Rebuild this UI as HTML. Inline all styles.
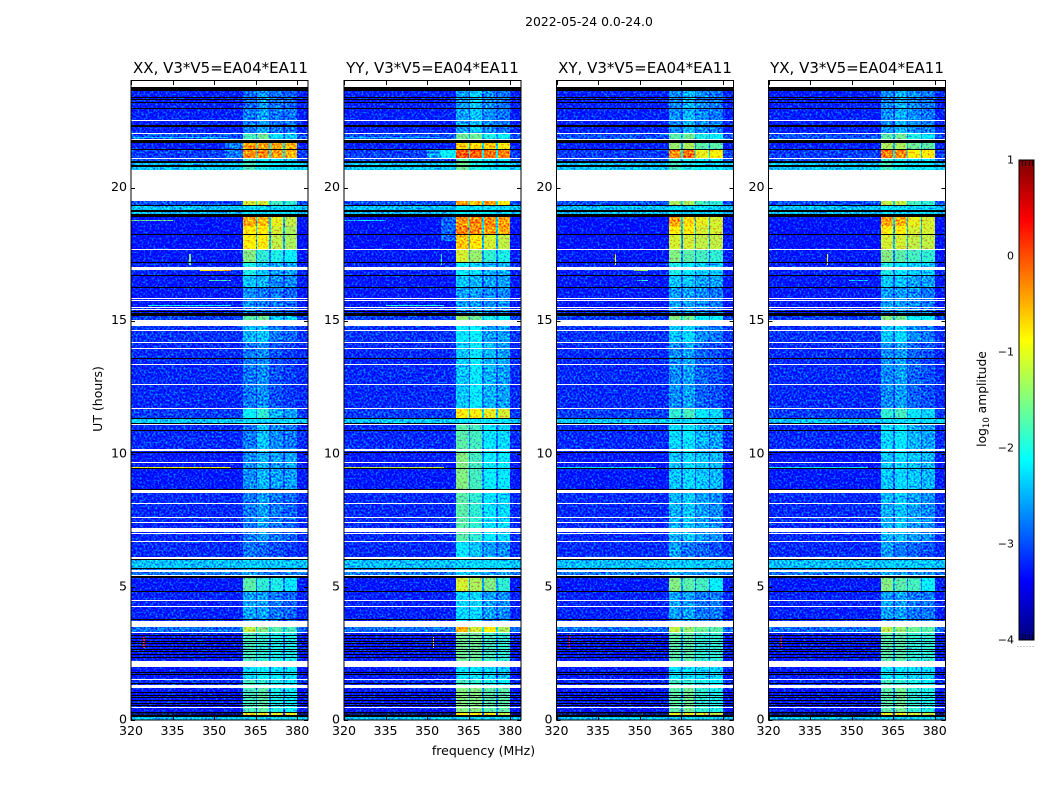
<!DOCTYPE html>
<html lang="en">
<head>
<meta charset="utf-8">
<title>2022-05-24 waterfall</title>
<style>
html,body{margin:0;padding:0;background:#fff;}
svg{display:block;}
text{font-family:"DejaVu Sans","Liberation Sans",sans-serif;fill:#000;}
.cell{shape-rendering:crispEdges;}
</style>
</head>
<body>
<svg id="figure" width="1050" height="800" viewBox="0 0 1050 800" xmlns="http://www.w3.org/2000/svg">
  <defs>
    <filter id="speckle" filterUnits="objectBoundingBox" x="0" y="0" width="1" height="1" color-interpolation-filters="sRGB">
      <feTurbulence type="fractalNoise" baseFrequency="0.5" numOctaves="2" seed="7" result="grain"/>
      <feColorMatrix in="grain" type="matrix" values="0 0 0 0 0.5  2.2 0 0 0 -0.6  0 0 0 0 0.5  0 0 0 0 1" result="green"/>
      <feComposite in="SourceGraphic" in2="green" operator="arithmetic" k1="0" k2="1" k3="0.85" k4="-0.425" result="textured"/>
      <feComposite in="textured" in2="SourceGraphic" operator="in"/>
    </filter>
  </defs>
  <text x="589" y="26" font-size="12.4" text-anchor="middle">2022-05-24 0.0-24.0</text>
  <text x="0" y="0" font-size="12.5" text-anchor="middle" transform="translate(102 399) rotate(-90)">UT (hours)</text>
  <text x="483.5" y="755" font-size="12.5" text-anchor="middle">frequency (MHz)</text>
  <text x="0" y="0" font-size="12.3" text-anchor="middle" transform="translate(986 399) rotate(-90)">log<tspan font-size="8.5" dy="3">10</tspan><tspan dy="-3"> amplitude</tspan></text>
  <g id="panels"></g>
  <g id="colorbar"></g>
</svg>
<script>
// ---- chart data ----
const panelTitles = ["XX, V3*V5=EA04*EA11", "YY, V3*V5=EA04*EA11", "XY, V3*V5=EA04*EA11", "YX, V3*V5=EA04*EA11"];
const freqTicks = [320, 335, 350, 365, 380];
const timeTicks = [0, 5, 10, 15, 20];
const colorTicks = [1, 0, -1, -2, -3, -4];

// Spectral windows, MHz
const spwEdges = [[360.5, 365], [365.5, 370], [370.5, 375], [375.5, 380]];

// Time bands, UT hours (descending edges)
const bandEdges = [23.77, 23.0, 22.05, 21.78, 21.41, 21.11, 20.92, 20.66, 19.49, 19.32, 18.89, 18.55, 18.23, 17.69, 17.2, 16.7, 16.23, 15.29, 15.0, 14.2, 11.72, 11.33, 11.15, 10.05, 8.66, 6.72, 6.02, 5.7, 5.37, 4.83, 3.72, 3.29, 2.23, 1.54, 1.2, 0.26, 0.19, 0];

// Off-band background level for each time band, log10 amplitude
const backgroundLevels = [-3.25, -3.25, -3.0, -3.25, -3.1, -3.0, -2.4, -3.0, -3.0, -2.45, -3.35, -3.35, -3.35, -3.3, -3.25, -3.3, -3.3, -3.1, -3.15, -3.2, -3.1, -2.4, -3.2, -3.3, -3.2, -3.2, -2.45, -2.8, -3.3, -3.25, -2.85, -3.3, -3.3, -3.2, -3.3, -4.2, -2.4];

// Level in the four spectral windows, one row per time band
const levelsXX = [[-2.9,-2.6,-2.8,-2.9],[-2.8,-2.6,-2.8,-2.8],[-1.8,-1.6,-2.3,-2.4],[-0.4,-0.4,-0.45,-0.5],[-0.3,-0.3,-0.4,-0.5],[-1.9,-2.1,-2.2,-2.3],[-1.8,-2.0,-2.2,-2.2],[-2.0,-2.0,-2.0,-2.0],[-1.1,-1.1,-1.8,-1.9],[-2.2,-2.3,-2.3,-2.3],[-0.45,-0.55,-1.0,-1.2],[-0.85,-0.85,-1.1,-1.3],[-0.9,-0.9,-1.2,-1.3],[-1.5,-1.9,-2.0,-2.1],[-2.0,-2.4,-2.6,-2.6],[-2.4,-2.5,-2.7,-2.7],[-2.7,-2.8,-2.8,-2.9],[-1.7,-1.6,-2.3,-2.3],[-2.5,-2.4,-2.8,-2.9],[-2.8,-2.7,-3.0,-3.1],[-2.1,-1.9,-2.5,-2.6],[-2.3,-2.3,-2.3,-2.3],[-2.8,-2.4,-2.7,-2.8],[-2.7,-2.5,-2.6,-2.6],[-2.8,-2.6,-2.8,-2.9],[-2.8,-2.9,-3.0,-3.1],[-2.4,-2.4,-2.4,-2.4],[-2.6,-2.7,-2.8,-2.8],[-1.7,-1.9,-2.0,-2.2],[-2.6,-2.6,-2.8,-2.9],[-1.2,-1.5,-1.7,-1.8],[-1.8,-1.9,-2.0,-2.0],[-2.3,-2.1,-2.2,-2.2],[-1.8,-1.9,-2.0,-2.2],[-1.8,-1.7,-2.0,-2.1],[-1.0,-1.0,-1.0,-1.0],[-2.3,-2.3,-2.3,-2.3]];
const levelsYY = [[-2.6,-2.4,-2.7,-2.8],[-2.6,-2.4,-2.7,-2.8],[-1.6,-1.6,-2.0,-2.1],[-0.7,-0.7,-0.6,-0.9],[0.0,-0.05,-0.2,-0.25],[-1.7,-2.0,-2.1,-2.2],[-1.6,-2.0,-2.2,-2.2],[-1.8,-1.8,-1.9,-2.0],[-0.4,-0.6,-0.4,-0.9],[-2.1,-2.2,-2.2,-2.3],[-0.35,-0.3,-0.3,-0.4],[-0.25,-0.3,-0.4,-0.45],[-0.6,-0.8,-1.1,-1.2],[-1.1,-1.4,-1.9,-2.0],[-2.1,-2.3,-2.5,-2.5],[-2.4,-2.5,-2.6,-2.6],[-2.6,-2.6,-2.7,-2.7],[-1.4,-1.6,-2.0,-2.1],[-2.2,-2.1,-2.6,-2.6],[-2.4,-2.2,-2.5,-2.6],[-0.9,-0.9,-1.0,-1.1],[-2.2,-2.2,-2.2,-2.2],[-1.7,-1.8,-2.2,-2.3],[-1.5,-1.8,-2.1,-2.2],[-1.7,-1.9,-2.2,-2.3],[-2.2,-2.4,-2.6,-2.7],[-2.3,-2.3,-2.3,-2.3],[-2.4,-2.5,-2.6,-2.6],[-1.1,-1.3,-1.5,-1.9],[-2.3,-2.3,-2.6,-2.7],[-0.5,-1.1,-0.9,-1.3],[-1.6,-1.6,-1.8,-1.9],[-2.2,-2.2,-2.3,-2.4],[-1.8,-1.9,-2.0,-2.2],[-1.5,-1.5,-1.7,-1.7],[-0.8,-0.9,-1.0,-1.2],[-2.3,-2.3,-2.3,-2.3]];
const levelsXY = [[-2.7,-2.5,-2.7,-2.8],[-2.7,-2.5,-2.7,-2.8],[-1.7,-1.6,-2.0,-2.1],[-1.4,-1.3,-1.7,-1.7],[-0.3,-0.2,-1.0,-0.9],[-1.9,-2.0,-2.2,-2.2],[-1.8,-2.0,-2.2,-2.2],[-2.0,-2.0,-2.0,-2.0],[-1.3,-1.3,-1.8,-1.9],[-2.2,-2.3,-2.3,-2.3],[-0.4,-0.7,-1.0,-1.1],[-0.9,-0.9,-1.1,-1.1],[-1.1,-1.1,-1.2,-1.2],[-1.5,-1.7,-1.8,-1.9],[-2.0,-2.2,-2.4,-2.4],[-2.4,-2.4,-2.6,-2.6],[-2.6,-2.6,-2.7,-2.8],[-1.5,-1.6,-2.1,-2.1],[-2.4,-2.3,-2.7,-2.8],[-2.7,-2.6,-2.9,-3.0],[-1.9,-1.8,-2.2,-2.3],[-2.3,-2.3,-2.3,-2.3],[-2.3,-2.2,-2.5,-2.6],[-2.4,-2.3,-2.4,-2.5],[-2.5,-2.4,-2.6,-2.7],[-2.6,-2.8,-2.9,-3.0],[-2.4,-2.4,-2.4,-2.4],[-2.5,-2.6,-2.7,-2.7],[-1.5,-1.7,-1.8,-2.1],[-2.6,-2.6,-2.8,-2.8],[-1.2,-1.4,-1.6,-1.7],[-1.7,-1.7,-1.9,-1.9],[-2.2,-2.2,-2.3,-2.3],[-1.8,-1.9,-2.0,-2.1],[-1.7,-1.6,-1.9,-2.0],[-1.0,-1.0,-1.1,-1.2],[-2.3,-2.3,-2.3,-2.3]];
const levelsYX = [[-2.7,-2.5,-2.7,-2.8],[-2.7,-2.5,-2.7,-2.8],[-1.7,-1.6,-2.0,-2.2],[-1.3,-1.3,-1.6,-1.7],[-0.2,-0.3,-0.9,-0.8],[-1.9,-2.0,-2.2,-2.2],[-1.8,-2.0,-2.2,-2.2],[-2.0,-2.0,-2.0,-2.0],[-1.2,-1.2,-1.8,-1.9],[-2.2,-2.3,-2.3,-2.3],[-0.4,-0.5,-1.0,-1.1],[-0.9,-0.9,-1.1,-1.1],[-1.1,-1.1,-1.2,-1.2],[-1.5,-1.7,-1.8,-1.9],[-2.0,-2.2,-2.4,-2.4],[-2.4,-2.4,-2.6,-2.6],[-2.6,-2.6,-2.7,-2.8],[-1.5,-1.6,-2.1,-2.1],[-2.4,-2.3,-2.7,-2.8],[-2.7,-2.6,-2.9,-3.0],[-1.9,-1.8,-2.2,-2.3],[-2.3,-2.3,-2.3,-2.3],[-2.3,-2.2,-2.5,-2.6],[-2.4,-2.3,-2.4,-2.5],[-2.5,-2.4,-2.6,-2.7],[-2.6,-2.8,-2.9,-3.0],[-2.4,-2.4,-2.4,-2.4],[-2.5,-2.6,-2.7,-2.7],[-1.5,-1.7,-1.8,-2.1],[-2.6,-2.6,-2.8,-2.8],[-1.2,-1.4,-1.6,-1.7],[-1.7,-1.7,-1.9,-1.9],[-2.2,-2.2,-2.3,-2.3],[-1.8,-1.9,-2.0,-2.1],[-1.7,-1.6,-1.9,-2.0],[-1.0,-1.0,-1.1,-1.2],[-2.3,-2.3,-2.3,-2.3]];

// Narrow interference features: [t top, t bottom, f low, f high, level]
const streaksXX = [[21.67,21.11,354,360.5,-2.8],[21.89,21.86,320,355,-2.4],[18.79,18.75,320,335,-1.6],[16.92,16.88,345,356,-0.6],[16.54,16.5,348,356,-1.8],[15.6,15.56,326,356,-2.2],[9.5,9.47,320,356,-1.0],[17.5,17.1,341,341.5,-1.5],[3.1,2.7,324.5,325,0.2]];
const streaksYY = [[21.41,21.11,350,355,-2.6],[21.41,21.11,355,360.5,-2.1],[21.89,21.86,320,355,-2.5],[18.79,18.75,320,335,-2.3],[18.89,18.0,355,360.5,-2.9],[15.6,15.56,335,356,-2.0],[9.5,9.47,320,356,-1.2],[17.5,17.1,355,355.5,-1.9],[3.1,2.7,352,352.5,-1.0]];
const streaksXY = [[16.92,16.88,348,353,-1.4],[16.54,16.5,349,353,-1.9],[9.5,9.47,320,356,-2.2],[17.5,17.1,341,341.5,-0.9],[3.2,2.7,324.5,325,0.3]];
const streaksYX = [[16.54,16.5,349,356,-2.2],[9.5,9.47,320,356,-2.2],[17.5,17.1,341,341.5,-0.9],[3.2,2.7,324.5,325,0.3]];

// Rows with no data (white), UT hours
const missingRows = [[24,23.77],[22.535,22.5],[22.05,22.01],[21.82,21.78],[21.11,21.07],[20.66,19.49],[17.69,17.65],[17.03,16.99],[16.96,16.92],[15.85,15.81],[15.77,15.74],[15.51,15.47],[15.44,15.4],[15.04,14.8],[14.65,14.61],[14.2,14.16],[13.97,13.93],[13.37,13.33],[12.62,12.58],[11.72,11.68],[11.14,11.08],[10.16,10.12],[9.69,9.65],[8.62,8.58],[8.56,8.53],[8.15,8.11],[7.64,7.61],[7.44,7.4],[7.23,7.06],[7.04,7.0],[6.72,6.69],[6.12,6.05],[5.63,5.56],[5.45,5.41],[4.51,4.47],[4.28,4.24],[3.72,3.49],[3.32,3.29],[2.23,1.99],[1.54,1.5],[1.31,1.2],[0.49,0.45]];

// Fully flagged rows (black), UT hours
const flaggedRows = [[23.77,23.62],[23.41,23.38],[23.31,23.28],[23.2,23.17],[22.97,22.93],[22.33,22.29],[21.78,21.67],[21.43,21.39],[20.99,20.92],[20.86,20.77],[19.33,19.3],[19.15,19.08],[19.0,18.89],[18.25,18.21],[17.22,17.18],[16.72,16.68],[16.25,16.21],[15.38,15.35],[15.29,15.17],[13.6,13.56],[11.35,11.31],[11.16,11.14],[10.9,10.86],[10.07,10.03],[9.47,9.43],[8.68,8.64],[6.04,6.0],[5.72,5.68],[5.39,5.35],[4.85,4.81],[3.78,3.74],[3.18,3.15],[3.08,3.05],[2.98,2.95],[2.88,2.85],[2.78,2.75],[2.68,2.65],[2.58,2.55],[2.48,2.45],[2.38,2.35],[1.81,1.78],[1.74,1.71],[1.4,1.37],[1.05,1.02],[0.95,0.92],[0.85,0.82],[0.75,0.72],[0.65,0.62],[0.55,0.52],[0.31,0.26],[0.17,0.1]];

// ---- layout and scales ----
const panelLefts = [131, 344, 556.5, 768.5];
const panelWidth = 177;
const plotTop = 81;
const plotBottom = 720;
const freqMin = 320;
const freqMax = 383.9;
const timeMin = 0;
const timeMax = 24;
const colorMin = -4;
const colorMax = 1;
const cbarLeft = 1019;
const cbarRight = 1034;
const cbarTop = 160;
const cbarBottom = 640;
const panelLevels = [levelsXX, levelsYY, levelsXY, levelsYX];
const panelStreaks = [streaksXX, streaksYY, streaksXY, streaksYX];
const panelNames = ['xx', 'yy', 'xy', 'yx'];
const svgNS = 'http://www.w3.org/2000/svg';

function xScale(panel, f) {
  return panelLefts[panel] + (f - freqMin) / (freqMax - freqMin) * panelWidth;
}
function yScale(t) {
  return plotBottom - (t - timeMin) / (timeMax - timeMin) * (plotBottom - plotTop);
}
function cbarScale(v) {
  return cbarBottom - (v - colorMin) / (colorMax - colorMin) * (cbarBottom - cbarTop);
}
function clamp01(x) {
  return Math.max(0, Math.min(1, x));
}
function colorScale(v) {
  const t = clamp01((v - colorMin) / (colorMax - colorMin));
  const r = clamp01(Math.min(4 * t - 1.5, -4 * t + 4.5));
  const g = clamp01(Math.min(4 * t - 0.5, -4 * t + 3.5));
  const b = clamp01(Math.min(4 * t + 0.5, -4 * t + 2.5));
  return 'rgb(' + Math.round(r * 255) + ',' + Math.round(g * 255) + ',' + Math.round(b * 255) + ')';
}
function shape(parent, tag, attrs) {
  const el = document.createElementNS(svgNS, tag);
  Object.keys(attrs).forEach(function (k) { el.setAttribute(k, attrs[k]); });
  parent.appendChild(el);
  return el;
}
function cell(parent, panel, f0, f1, t0, t1, fill) {
  const x0 = Math.round(xScale(panel, f0));
  const x1 = Math.round(xScale(panel, f1));
  const y0 = Math.round(yScale(t0));
  const y1 = Math.round(yScale(t1));
  return shape(parent, 'rect', {
    x: x0, y: y0,
    width: Math.max(1, x1 - x0),
    height: Math.max(1, y1 - y0),
    fill: fill, 'class': 'cell'
  });
}

const panelsRoot = document.getElementById('panels');
panelTitles.forEach(function (title, p) {
  const key = panelNames[p];
  const group = shape(panelsRoot, 'g', {});
  
  

  const heat = shape(group, 'g', { filter: 'url(#speckle)' });
  
  

  backgroundLevels.forEach(function (bg, b) {
    const t0 = bandEdges[b];
    const t1 = bandEdges[b + 1];
    const row = panelLevels[p][b];
    const base = cell(heat, p, freqMin, spwEdges[0][0], t0, t1, colorScale(bg));
    
    
    spwEdges.forEach(function (edge, s) {
      const c = cell(heat, p, edge[0], edge[1], t0, t1, colorScale(row[s]));
      
      
      if (s < spwEdges.length - 1) {
        const between = bg + 0.35 * (row[s] - bg);
        const g = cell(heat, p, edge[1], spwEdges[s + 1][0], t0, t1, colorScale(between));
        
        
      }
    });
    const high = cell(heat, p, spwEdges[3][1], freqMax, t0, t1, colorScale(bg));
    
    
  });

  panelStreaks[p].forEach(function (st) {
    const c = cell(heat, p, st[2], st[3], st[0], st[1], colorScale(st[4]));
    
    
  });

  missingRows.forEach(function (r) {
    const c = cell(group, p, freqMin, freqMax, r[0], r[1], '#ffffff');
    
    
  });
  flaggedRows.forEach(function (r) {
    const c = cell(group, p, freqMin, freqMax, r[0], r[1], '#000000');
    
    
  });

  const left = panelLefts[p];
  const right = left + panelWidth;
  const frame = shape(group, 'rect', { x: left, y: plotTop - 0.5, width: panelWidth, height: plotBottom - plotTop + 0.5, fill: 'none', stroke: '#000', 'stroke-width': 1 });
  
  

  const heading = shape(group, 'text', { x: left + panelWidth / 2 + (p === 0 ? 1 : 0), y: 73, 'font-size': 15, 'text-anchor': 'middle' });
  heading.textContent = title;
  
  

  freqTicks.forEach(function (f) {
    const x = Math.round(xScale(p, f)) + 0.5;
    const tb = shape(group, 'line', { x1: x, x2: x, y1: plotBottom, y2: plotBottom - 4, stroke: '#000', 'stroke-width': 1 });
    
    
    const tt = shape(group, 'line', { x1: x, x2: x, y1: plotTop, y2: plotTop + 4, stroke: '#000', 'stroke-width': 1 });
    
    
    const lab = shape(group, 'text', { x: xScale(p, f), y: 735, 'font-size': 12.6, 'text-anchor': 'middle' });
    lab.textContent = String(f);
    
    
  });
  timeTicks.forEach(function (t) {
    const y = Math.round(yScale(t)) + 0.5;
    const tl = shape(group, 'line', { x1: left, x2: left + 4, y1: y, y2: y, stroke: '#000', 'stroke-width': 1 });
    
    
    const tr = shape(group, 'line', { x1: right, x2: right - 4, y1: y, y2: y, stroke: '#000', 'stroke-width': 1 });
    
    
    const lab = shape(group, 'text', { x: left - 4, y: yScale(t) + 3.5, 'font-size': 12.6, 'text-anchor': 'end' });
    lab.textContent = String(t);
    
    
  });
});

// ---- colorbar ----
const cbarRoot = document.getElementById('colorbar');
for (let y = cbarTop; y < cbarBottom; y += 2) {
  const v = colorMax - (y - cbarTop + 1) / (cbarBottom - cbarTop) * (colorMax - colorMin);
  const band = shape(cbarRoot, 'rect', { x: cbarLeft, y: y, width: cbarRight - cbarLeft, height: 2, fill: colorScale(v), 'class': 'cell' });
  
  
}
const cbarFrame = shape(cbarRoot, 'rect', { x: cbarLeft, y: cbarTop, width: cbarRight - cbarLeft, height: cbarBottom - cbarTop, fill: 'none', stroke: '#000', 'stroke-width': 1 });


[1022, 1025, 1029, 1032].forEach(function (x) {
  const a = shape(cbarRoot, 'line', { x1: x + 0.5, x2: x + 0.5, y1: cbarTop, y2: cbarTop + 6, stroke: '#000', 'stroke-opacity': 0.7, 'stroke-width': 1 });
  
  
  const b = shape(cbarRoot, 'line', { x1: x + 0.5, x2: x + 0.5, y1: cbarBottom, y2: cbarBottom - 6, stroke: '#000', 'stroke-opacity': 0.7, 'stroke-width': 1 });
  
  
});
[1017.5, 1020.5, 1023.5, 1026.5, 1029.5, 1032.5].forEach(function (x) {
  const d = shape(cbarRoot, 'rect', { x: x, y: 646, width: 1, height: 1, fill: '#999' });
  
  
});
colorTicks.forEach(function (v) {
  const lab = shape(cbarRoot, 'text', { x: 1014, y: cbarScale(v) + 3.5, 'font-size': 11, 'text-anchor': 'end' });
  lab.textContent = String(v).replace('-', '\u2212');
  
  
});
</script>
</body>
</html>
